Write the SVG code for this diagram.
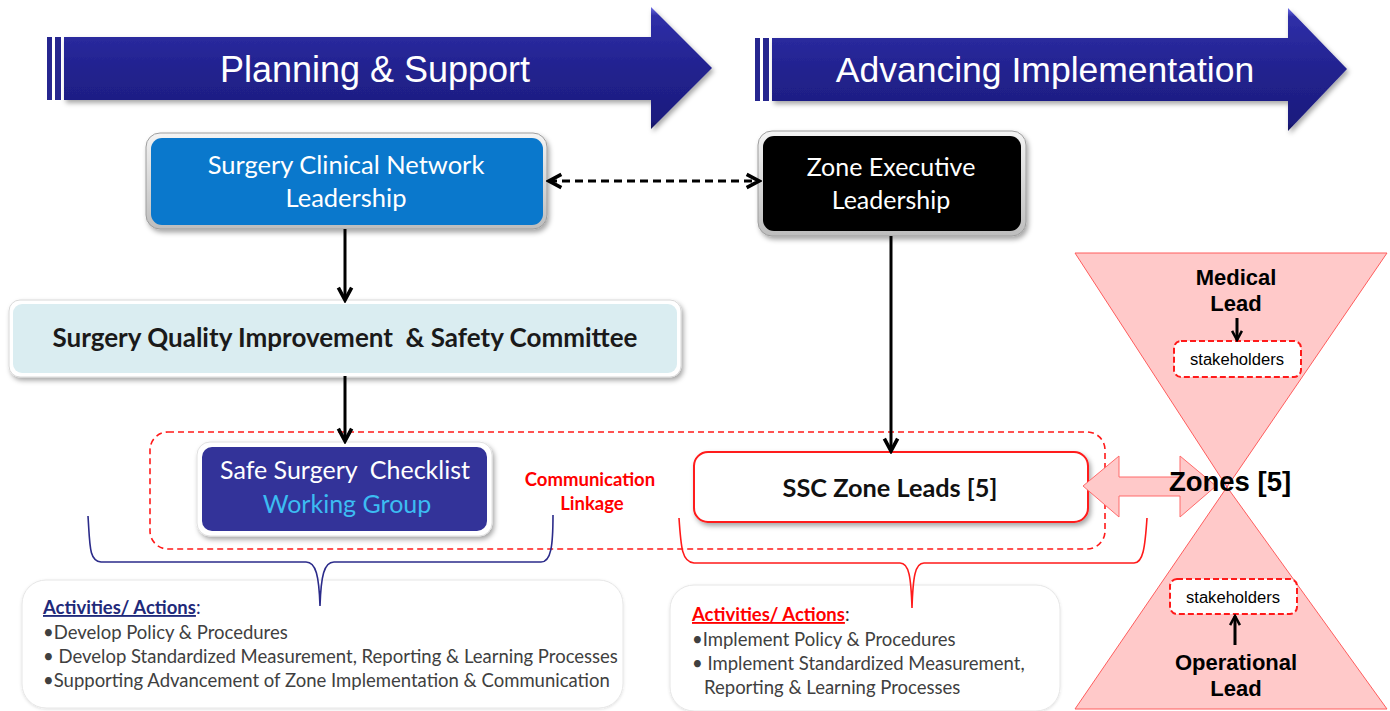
<svg xmlns="http://www.w3.org/2000/svg" width="1390" height="711" viewBox="0 0 1390 711">
  <defs>
    <linearGradient id="bandFill" x1="0" y1="0" x2="0" y2="1">
      <stop offset="0" stop-color="#6f6fe6"/>
      <stop offset="0.07" stop-color="#2f2fa8"/>
      <stop offset="0.5" stop-color="#22228f"/>
      <stop offset="0.93" stop-color="#1c1c7e"/>
      <stop offset="1" stop-color="#12125a"/>
    </linearGradient>
    <linearGradient id="frameSilver" x1="0" y1="0" x2="0" y2="1">
      <stop offset="0" stop-color="#f4f4f4"/>
      <stop offset="1" stop-color="#bdbdbd"/>
    </linearGradient>
    <filter id="shadow" x="-10%" y="-20%" width="125%" height="150%">
      <feDropShadow dx="2" dy="3" stdDeviation="2.5" flood-color="#000" flood-opacity="0.35"/>
    </filter>
    <filter id="softShadow" x="-10%" y="-20%" width="125%" height="150%">
      <feDropShadow dx="0" dy="1" stdDeviation="1.5" flood-color="#000" flood-opacity="0.12"/>
    </filter>
    <marker id="chev" viewBox="0 0 20 20" refX="17" refY="10" markerWidth="19" markerHeight="19" markerUnits="userSpaceOnUse" orient="auto-start-reverse">
      <path d="M4,3 L17,10 L4,17" fill="none" stroke="#000" stroke-width="3.8" stroke-linejoin="miter"/>
    </marker>
    <marker id="chevS" viewBox="0 0 20 20" refX="17" refY="10" markerWidth="14" markerHeight="14" markerUnits="userSpaceOnUse" orient="auto-start-reverse">
      <path d="M4,3 L17,10 L4,17" fill="none" stroke="#000" stroke-width="3.6"/>
    </marker>
    <style>
      .band { fill: url(#bandFill); filter: url(#shadow); }
      .stripe { fill: #26268f; }
      .bandText { font-family: "Liberation Sans", Arial, sans-serif; fill: #fff; text-anchor: middle; }
      .cal { font-family: Lato, "Open Sans", sans-serif; text-anchor: middle; }
      .arial { font-family: "Liberation Sans", Arial, sans-serif; }
      .lead { font-family: "Liberation Sans", Arial, sans-serif; font-size: 22px; font-weight: bold; text-anchor: middle; }
      .conn { stroke: #000; stroke-width: 3; fill: none; }
      .brace { fill: none; stroke-width: 1.6; }
      .stake { fill: #fff; stroke: #ff1a1a; stroke-width: 2; stroke-dasharray: 6 3; }
      .actBox { fill: #fff; stroke: #e6e6e6; stroke-width: 1; }
      .actHead { font-family: Lato, "Open Sans", sans-serif; font-size: 18.5px; font-weight: bold; }
      .actText { font-family: Lato, "Open Sans", sans-serif; font-size: 18.5px; fill: #404040; }
    </style>
  </defs>

  <rect width="1390" height="711" fill="#fff"/>

  <!-- Phase bands -->
  <g id="band-planning">
    <rect class="stripe" x="47" y="37" width="5" height="63"/>
    <rect class="stripe" x="55" y="37" width="6" height="63"/>
    <path class="band" d="M64,37 L651,37 L651,7 L712,68 L651,129 L651,100 L64,100 Z"/>
    <text class="bandText" x="375" y="82" font-size="36">Planning &amp; Support</text>
  </g>
  <g id="band-advancing">
    <rect class="stripe" x="755" y="38" width="5" height="63"/>
    <rect class="stripe" x="763" y="38" width="6" height="63"/>
    <path class="band" d="M772,38 L1288,38 L1288,8 L1347,69 L1288,131 L1288,101 L772,101 Z"/>
    <text class="bandText" x="1045" y="82" font-size="35.5">Advancing Implementation</text>
  </g>

  <!-- Hourglass of zones -->
  <g id="zones-hourglass">
    <path d="M1075,253 L1387,253 L1227,487 Z" fill="#ffc9c9" stroke="#ff5c5c" stroke-width="1"/>
    <path d="M1227,487 L1387,709 L1075,709 Z" fill="#ffc9c9" stroke="#ff5c5c" stroke-width="1"/>
  </g>

  <!-- Communication linkage boundary -->
  <g id="comm-boundary">
    <rect x="150" y="432" width="955" height="117" rx="18" fill="none" stroke="#ff1a1a" stroke-width="1.6" stroke-dasharray="6 4"/>
    <text class="cal" x="590" y="486" font-size="18.5" font-weight="bold" fill="#ff0000">Communication</text>
    <text class="cal" x="592" y="510" font-size="18.5" font-weight="bold" fill="#ff0000">Linkage</text>
  </g>

  <!-- Nodes -->
  <g id="node-clinical-network">
    <rect x="146" y="133" width="401" height="96" rx="14" fill="url(#frameSilver)" stroke="#9e9e9e" stroke-width="1" filter="url(#shadow)"/>
    <rect x="151" y="138" width="392" height="87" rx="11" fill="#0a78cc"/>
    <text class="cal" x="346" y="174" font-size="25.5" fill="#fff">Surgery Clinical Network</text>
    <text class="cal" x="346" y="207" font-size="25.5" fill="#fff">Leadership</text>
  </g>

  <g id="node-zone-executive">
    <rect x="758" y="131" width="268" height="105" rx="14" fill="url(#frameSilver)" stroke="#9e9e9e" stroke-width="1" filter="url(#shadow)"/>
    <rect x="763" y="136" width="258" height="95" rx="11" fill="#000"/>
    <text class="cal" x="891" y="176" font-size="25" fill="#fff">Zone Executive</text>
    <text class="cal" x="891" y="209" font-size="25" fill="#fff">Leadership</text>
  </g>

  <g id="node-quality-committee">
    <rect x="9" y="300" width="672" height="77" rx="11" fill="#fff" stroke="#d8d8d8" stroke-width="1" filter="url(#shadow)"/>
    <rect x="13" y="304" width="664" height="69" rx="9" fill="#daedf1"/>
    <text class="cal" x="345" y="347" font-size="26" font-weight="bold" fill="#1a1a1a" xml:space="preserve">Surgery Quality Improvement  &amp; Safety Committee</text>
  </g>

  <g id="node-ssc-working-group">
    <rect x="197" y="442" width="295" height="94" rx="13" fill="#fff" stroke="#e0e0e0" stroke-width="1" filter="url(#shadow)"/>
    <rect x="202" y="447" width="285" height="84" rx="10" fill="#333399"/>
    <text class="cal" x="345" y="479" font-size="25" fill="#fff" xml:space="preserve">Safe Surgery  Checklist</text>
    <text class="cal" x="347" y="513" font-size="25" fill="#3cbcf2">Working Group</text>
  </g>

  <g id="node-ssc-zone-leads">
    <rect x="694" y="452" width="394" height="70" rx="14" fill="#fff" stroke="#ff1a1a" stroke-width="2" filter="url(#shadow)"/>
    <text class="cal" x="890" y="497" font-size="25.3" font-weight="bold" fill="#111">SSC Zone Leads [5]</text>
  </g>

  <g id="node-medical-lead">
    <text class="lead" x="1236" y="285">Medical</text>
    <text class="lead" x="1236" y="311">Lead</text>
  </g>
  <g id="node-stakeholders-top">
    <rect class="stake" x="1174" y="341" width="127" height="36" rx="7"/>
    <text class="arial" x="1237" y="365" font-size="16" text-anchor="middle" textLength="94" lengthAdjust="spacingAndGlyphs">stakeholders</text>
  </g>
  <g id="node-stakeholders-bottom">
    <rect class="stake" x="1170" y="579" width="127" height="35" rx="7"/>
    <text class="arial" x="1233" y="603" font-size="16" text-anchor="middle" textLength="94" lengthAdjust="spacingAndGlyphs">stakeholders</text>
  </g>
  <g id="node-operational-lead">
    <text class="lead" x="1236" y="670">Operational</text>
    <text class="lead" x="1236" y="696">Lead</text>
  </g>

  <!-- Activity boxes -->
  <g id="node-activities-planning">
    <rect class="actBox" x="22" y="580" width="601" height="128" rx="24" filter="url(#softShadow)"/>
    <text class="actHead" x="43" y="614" fill="#1f2a7a"><tspan text-decoration="underline">Activities/ Actions</tspan><tspan font-weight="normal">:</tspan></text>
    <text class="actText" x="43" y="639">•Develop Policy &amp; Procedures</text>
    <text class="actText" x="43" y="663" xml:space="preserve">• Develop Standardized Measurement, Reporting &amp; Learning Processes</text>
    <text class="actText" x="43" y="687">•Supporting Advancement of Zone Implementation &amp; Communication</text>
  </g>

  <g id="node-activities-implementation">
    <rect class="actBox" x="670" y="585" width="390" height="126" rx="24" filter="url(#softShadow)"/>
    <text class="actHead" x="692" y="621" fill="#ff0000"><tspan text-decoration="underline">Activities/ Actions</tspan><tspan font-weight="normal" fill="#333">:</tspan></text>
    <text class="actText" x="692" y="646">•Implement Policy &amp; Procedures</text>
    <text class="actText" x="692" y="670" xml:space="preserve">• Implement Standardized Measurement,</text>
    <text class="actText" x="704" y="694">Reporting &amp; Learning Processes</text>
  </g>

  <!-- Connectors -->
  <g id="connectors">
    <path class="conn" d="M549,181 L759,181" stroke-dasharray="8 5" marker-start="url(#chev)" marker-end="url(#chev)"/>
    <path class="conn" d="M345,229 L345,300" marker-end="url(#chev)"/>
    <path class="conn" d="M345,376 L345,441" marker-end="url(#chev)"/>
    <path class="conn" d="M891,236 L891,451" marker-end="url(#chev)"/>
    <path class="conn" d="M1237,318 L1237,340" stroke-width="3" marker-end="url(#chevS)"/>
    <path class="conn" d="M1235,645 L1235,616" stroke-width="3" marker-end="url(#chevS)"/>
    <!-- two-way link between zone leads and zones -->
    <path d="M1083,486 L1119,456 L1119,477 L1180,477 L1180,456 L1216,486 L1180,517 L1180,496 L1119,496 L1119,517 Z" fill="#ffc9c9" stroke="#ff6b6b" stroke-width="1"/>
    <!-- braces gathering activities -->
    <path class="brace" stroke="#2b2b8a" d="M88,516 C90,546 89,561 101,562 L306,562 C316,562 319,576 320,606 C321,576 324,562 334,562 L541,562 C551,562 553,546 553,515"/>
    <path class="brace" stroke="#ff1a1a" d="M679,518 C681,548 682,562 694,563 L900,563 C909,563 911,577 912,608 C913,577 915,563 924,563 L1134,563 C1143,563 1145,548 1147,518"/>
  </g>

  <!-- zone label sits above the two-way link -->
  <g id="node-zones">
    <text class="arial" x="1230" y="491" font-size="27.5" font-weight="bold" text-anchor="middle">Zones [5]</text>
  </g>
</svg>
